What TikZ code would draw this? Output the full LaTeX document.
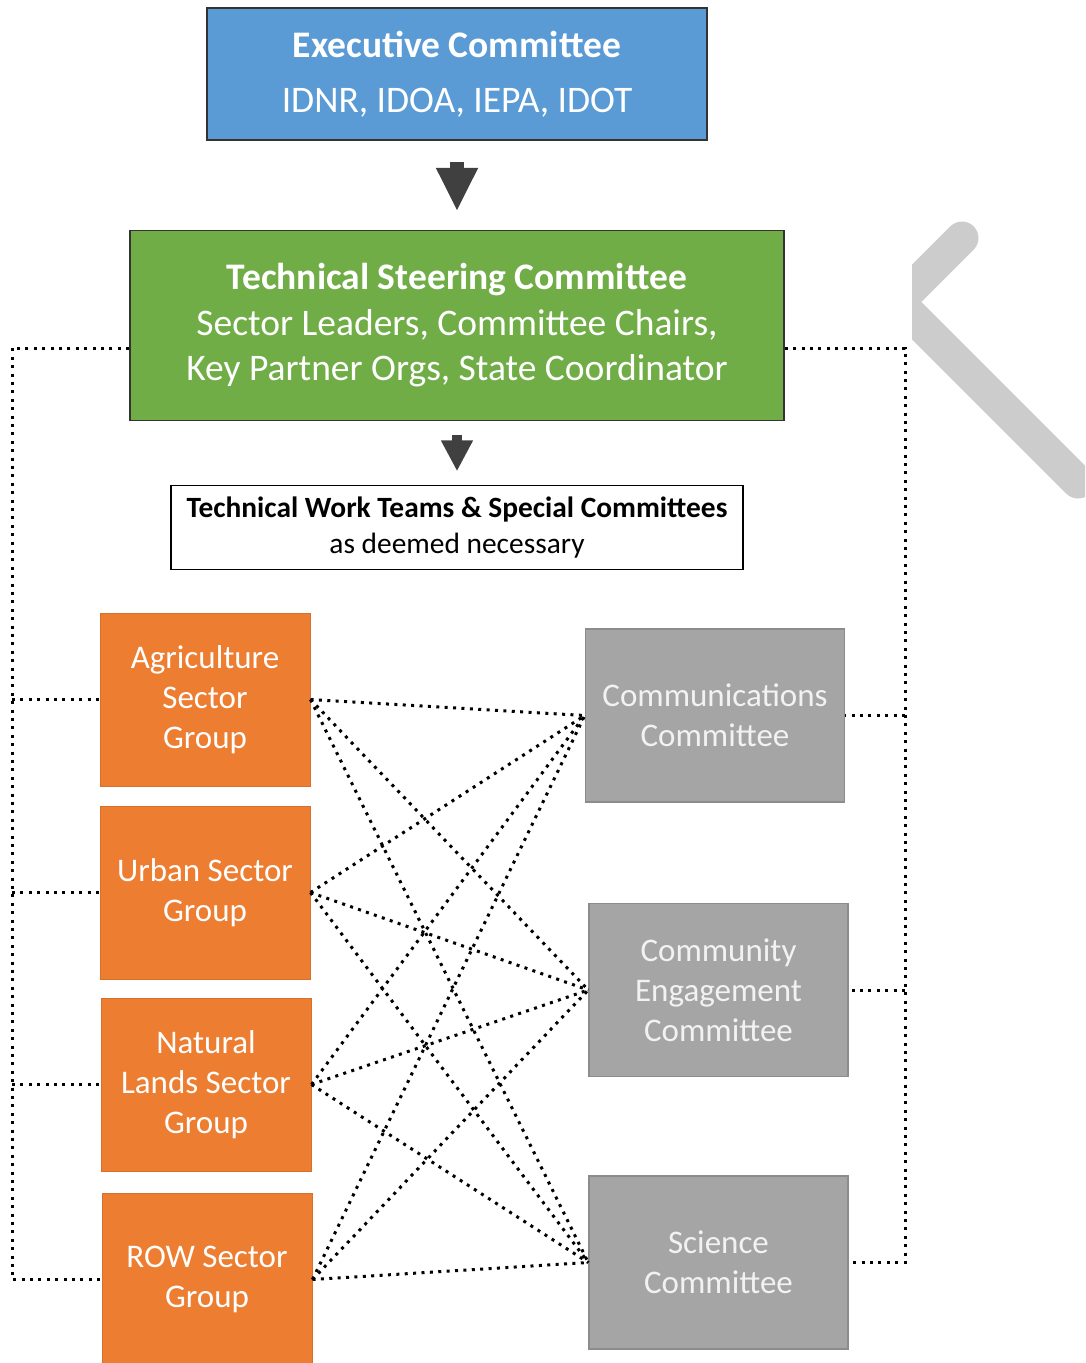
\documentclass[tikz,border=0pt]{standalone}
\usepackage{fontspec}
\setmainfont{Carlito}
\usetikzlibrary{positioning,arrows.meta,calc}

\definecolor{execblue}{HTML}{5B9BD5}
\definecolor{tscgreen}{HTML}{70AD47}
\definecolor{sectorange}{HTML}{ED7D31}
\definecolor{commgray}{HTML}{A5A5A5}
\definecolor{arrowgray}{HTML}{404040}
\definecolor{chevgray}{HTML}{CCCCCC}

\tikzset{
  topbox/.style={draw=black!80, line width=1.5pt, text=white, align=center, inner sep=0pt},
  sectorbox/.style={fill=sectorange, draw=sectorange!90!black, line width=1pt, text=white, align=center,
    minimum width=210pt, minimum height=173pt, inner sep=0pt, font=\fontsize{33}{40}\selectfont},
  commbox/.style={fill=commgray, draw=commgray!85!black, line width=1.5pt, text=white!95!black, align=center,
    minimum width=259pt, minimum height=173pt, inner sep=0pt, font=\fontsize{33}{40}\selectfont},
  link/.style={draw=black, line width=3pt, line cap=butt, dash pattern=on 3pt off 5.4pt},
  fatarrow/.style={draw=arrowgray, fill=arrowgray, line width=#1},
}

\begin{document}
\begin{tikzpicture}[x=1pt,y=1pt]

  \useasboundingbox (0,0) rectangle (1085,-1363);

  % top of the chart
  \node[topbox, fill=execblue, minimum width=500pt, minimum height=132pt,
        font=\fontsize{37.5}{45}\selectfont] (exec) at (457,-74)
        {\textbf{Executive Committee}\\[10pt]IDNR, IDOA, IEPA, IDOT};
  \node[topbox, fill=tscgreen, minimum width=654pt, minimum height=190pt,
        font=\fontsize{37.5}{45.5}\selectfont] (tsc) [below=89pt of exec]
        {\textbf{Technical Steering Committee}\\Sector Leaders, Committee Chairs,\\Key Partner Orgs, State Coordinator};
  \node[draw=black, line width=1.2pt, align=center, inner sep=0pt, minimum width=572pt, minimum height=84pt,
        font=\fontsize{29.4}{36}\selectfont] (teams) [below=64pt of tsc]
        {\textbf{Technical Work Teams \& Special Committees}\\as deemed necessary};

  \draw[fatarrow=14pt, -{Triangle[width=39pt,length=43.5pt]}]
    ([yshift=-21pt]exec.south) -- ([yshift=18.5pt]tsc.north);
  \draw[fatarrow=10pt, -{Triangle[width=30pt,length=31pt]}]
    ([yshift=-13.5pt]tsc.south) -- ([yshift=14pt]teams.north);

  % sector groups
  \node[sectorbox] (agri) at (205,-699.5) {Agriculture\\Sector\\Group};
  \node[sectorbox] (urban) [below=19pt of agri] {Urban Sector\\Group};
  \node[sectorbox, xshift=1pt] (natural) [below=18pt of urban] {Natural\\Lands Sector\\Group};
  \node[sectorbox, xshift=1pt] (row) [below=21pt of natural] {ROW Sector\\Group};

  % committees
  \node[commbox] (comm) at (715,-715.5) {Communications\\Committee};
  \node[commbox, xshift=3.5pt] (engage) [below=100pt of comm] {Community\\Engagement\\Committee};
  \node[commbox] (science) [below=98pt of engage] {Science\\Committee};

  % every group to every committee
  \path[link] (agri.east) edge (comm.west) edge (engage.west) edge (science.west);
  \path[link] (urban.east) edge (comm.west) edge (engage.west) edge (science.west);
  \path[link] (natural.east) edge (comm.west) edge (engage.west) edge (science.west);
  \path[link] (row.east) edge (comm.west) edge (engage.west) edge (science.west);

  % outer dotted frames
  \coordinate (lframe) at (12,-348);
  \coordinate (rframe) at (905,-348);
  \draw[link] (tsc.west |- lframe) -- (lframe) -- (lframe |- row.west) -- (row.west);
  \path[link] (lframe |- agri.west) edge (agri.west);
  \path[link] (lframe |- urban.west) edge (urban.west);
  \path[link] (lframe |- natural.west) edge (natural.west);
  \draw[link] (tsc.east |- rframe) -- (rframe) -- (rframe |- science.east) -- (science.east);
  \path[link] (rframe |- comm.east) edge (comm.east);
  \path[link] (rframe |- engage.east) edge (engage.east);

  % grey chevron at the right edge
  \begin{scope}
    \clip (912,0) rectangle (1085,-1363);
    \draw[chevgray, line width=33pt, line cap=round] (962,-238) -- (898,-302) -- (1078,-482);
  \end{scope}

\end{tikzpicture}
\end{document}
